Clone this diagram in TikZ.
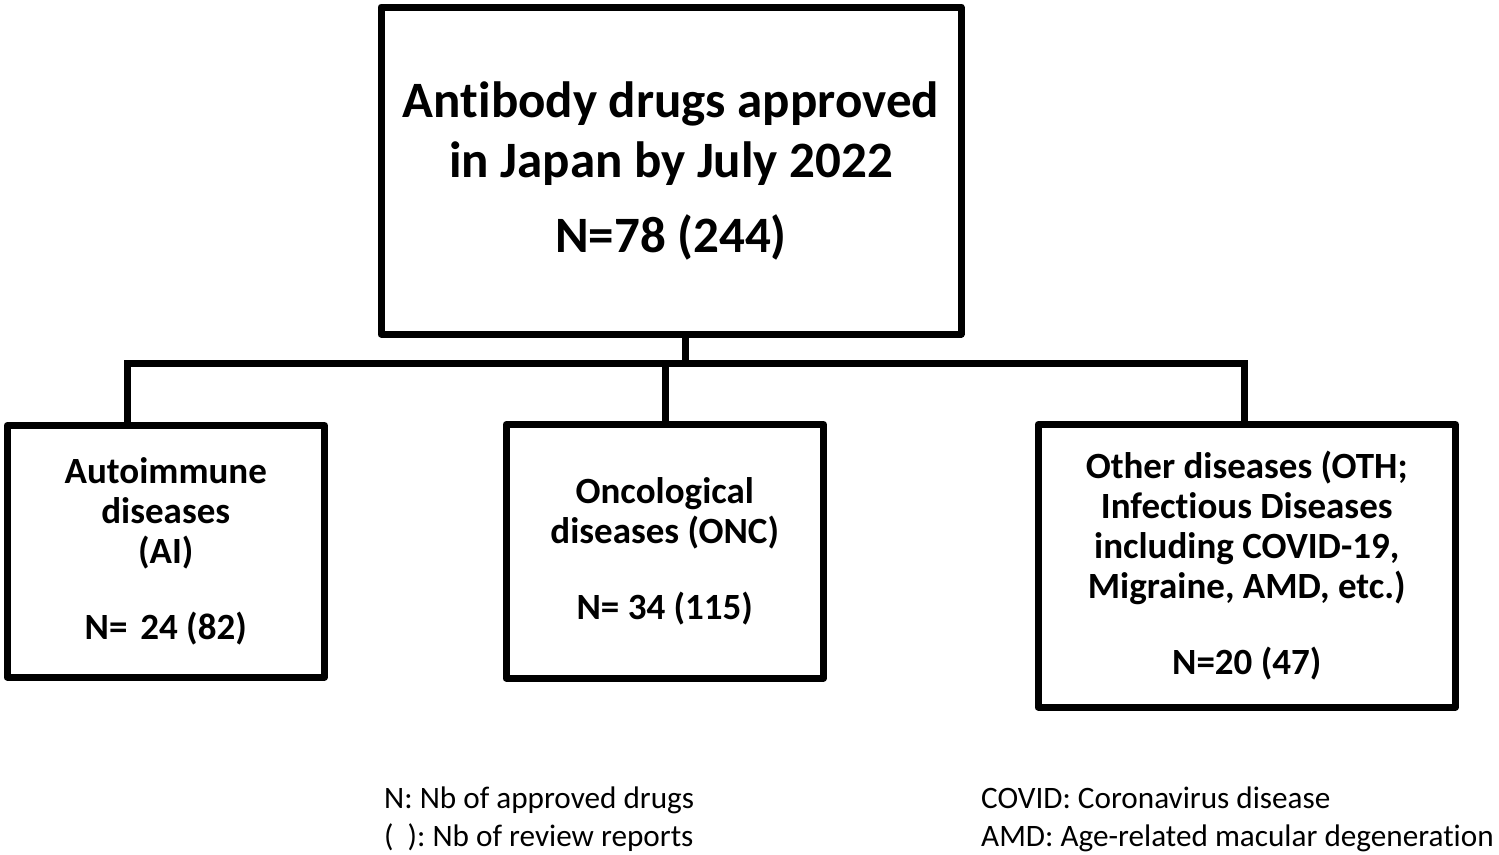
\documentclass[tikz,border=0pt]{standalone}
\usepackage{fontspec}
\setmainfont{Carlito}[Ligatures=NoCommon]
\begin{document}
\frenchspacing
\begin{tikzpicture}[x=1pt,y=-1pt,
  box/.style={draw=black,line width=7pt,line join=round,inner sep=0pt,align=center,font=\fontsize{37}{40}\selectfont\bfseries},
  conn/.style={draw=black,line width=7pt,line join=miter},
  foot/.style={anchor=base west,inner sep=0pt,font=\fontsize{31.2}{37}\selectfont}]
\useasboundingbox (0,0) rectangle (1499,854);
\node[box,minimum width=580pt,minimum height=327pt,font=\fontsize{51}{60}\selectfont\bfseries] (top) at (671,170.5)
  {Antibody drugs approved\\in Japan by July 2022\\[15pt]N=78 (244)};
\node[box,minimum width=317.5pt,minimum height=251.5pt] (ai) at (165.75,551.25)
  {Autoimmune\\diseases\\(AI)\\[36pt]N=\hspace{0.12em} 24 (82)};
\node[box,minimum width=317.5pt,minimum height=253.5pt] (onc) at (664.75,551.25)
  {Oncological\\diseases (ONC)\\[36pt]N= 34 (115)};
\node[box,minimum width=417.5pt,minimum height=282.5pt] (oth) at (1246.75,565.75)
  {Other diseases (OTH;\\Infectious Diseases\\including COVID-19,\\Migraine, AMD, etc.)\\[36pt]N=20 (47)};
\coordinate (stem) at (685.5,363);
\coordinate (bl) at (127.5,363);
\coordinate (bm) at (665.5,363);
\coordinate (br) at (1244,363);
\draw[conn] (stem |- top.south) -- (stem);
\draw[conn] (bl |- ai.north) -- (bl) -- (br) -- (br |- oth.north);
\draw[conn] (bm) -- (bm |- onc.north);
\node[foot] (f1) at (384,808) {N: Nb of approved drugs};
\node[foot] (f2) at (384,846) {(\hspace{0.45em}): Nb of review reports};
\node[foot] (f3) at (981,808) {COVID: Coronavirus disease};
\node[foot] (f4) at (981,846) {AMD: Age-related macular degeneration};
\end{tikzpicture}
\end{document}
